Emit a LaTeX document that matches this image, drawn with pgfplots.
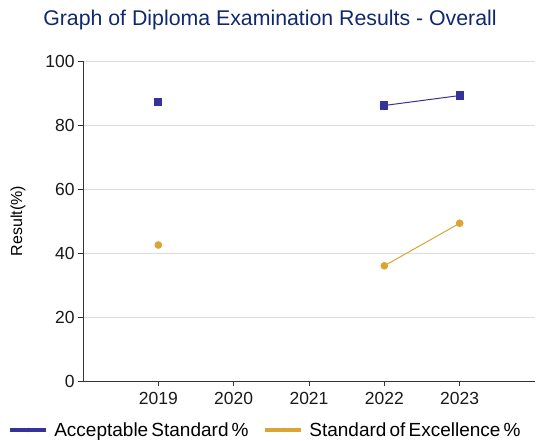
\documentclass[border=0pt]{standalone}
\usepackage{fontspec}
\setmainfont{Liberation Sans}
\usepackage{pgfplots}
\pgfplotsset{compat=1.18}
\definecolor{accBlue}{RGB}{51,51,153}
\definecolor{excOrange}{RGB}{218,165,52}
\definecolor{titleNavy}{RGB}{16,40,110}
\definecolor{gridGray}{RGB}{221,221,221}
\begin{document}
\begin{tikzpicture}
\begin{axis}[
    at={(0pt,0pt)}, anchor=origin,
    scale only axis,
    width=452pt, height=320pt,
    xmin=2018, xmax=2024,
    ymin=0, ymax=100,
    xtick={2019,2020,2021,2022,2023},
    ytick={0,20,40,60,80,100},
    xticklabel style={/pgf/number format/1000 sep={}, yshift=-3pt},
    /pgf/number format/assume math mode=true,
    tick label style={font=\fontsize{17.5}{18}\selectfont, text=black!90},
    axis x line=bottom, axis y line=left,
    axis line style={-, black!80, line width=0.9pt},
    tick style={black!80, line width=0.9pt},
    tick align=outside, major tick length=5pt,
    ymajorgrids, grid style={gridGray, line width=0.9pt},
    unbounded coords=jump,
    legend columns=2,
    legend style={draw=none, fill=none, font=\fontsize{19}{20}\selectfont,
        at={(0.404,-0.153)}, anchor=center,
        /tikz/every even column/.append style={column sep=13pt}},
    legend image code/.code={
        \draw[#1, line width=3.5pt] (0pt,0pt) -- (36pt,0pt);
        \draw[#1, fill] (18pt,0pt) circle (1.6pt);
        \path[draw=none, fill=none] (0pt,0pt) rectangle (42pt,0pt);},
]
\addplot[accBlue, line width=1pt, mark=square*, mark size=3.6pt] coordinates {
    (2019,87.2) (2020,nan) (2021,nan) (2022,86.1) (2023,89.2)
};
\addlegendentry{Acceptable\,Standard\,\%}
\addplot[excOrange, line width=1pt, mark=*, mark size=3.3pt] coordinates {
    (2019,42.5) (2020,nan) (2021,nan) (2022,36.0) (2023,49.3)
};
\addlegendentry{Standard\,of\,Excellence\,\%}
\end{axis}
\node[anchor=center, rotate=90, text=black, font=\fontsize{16}{17}\selectfont] at (-65pt,160pt) {Result(\%)};
\node[anchor=center, text=titleNavy, font=\fontsize{21.3}{23}\selectfont] at (187pt,361pt) {Graph of Diploma Examination Results - Overall};
\pgfresetboundingbox
\useasboundingbox (-83pt,-59pt) rectangle (454pt,381pt);
\end{tikzpicture}
\end{document}
